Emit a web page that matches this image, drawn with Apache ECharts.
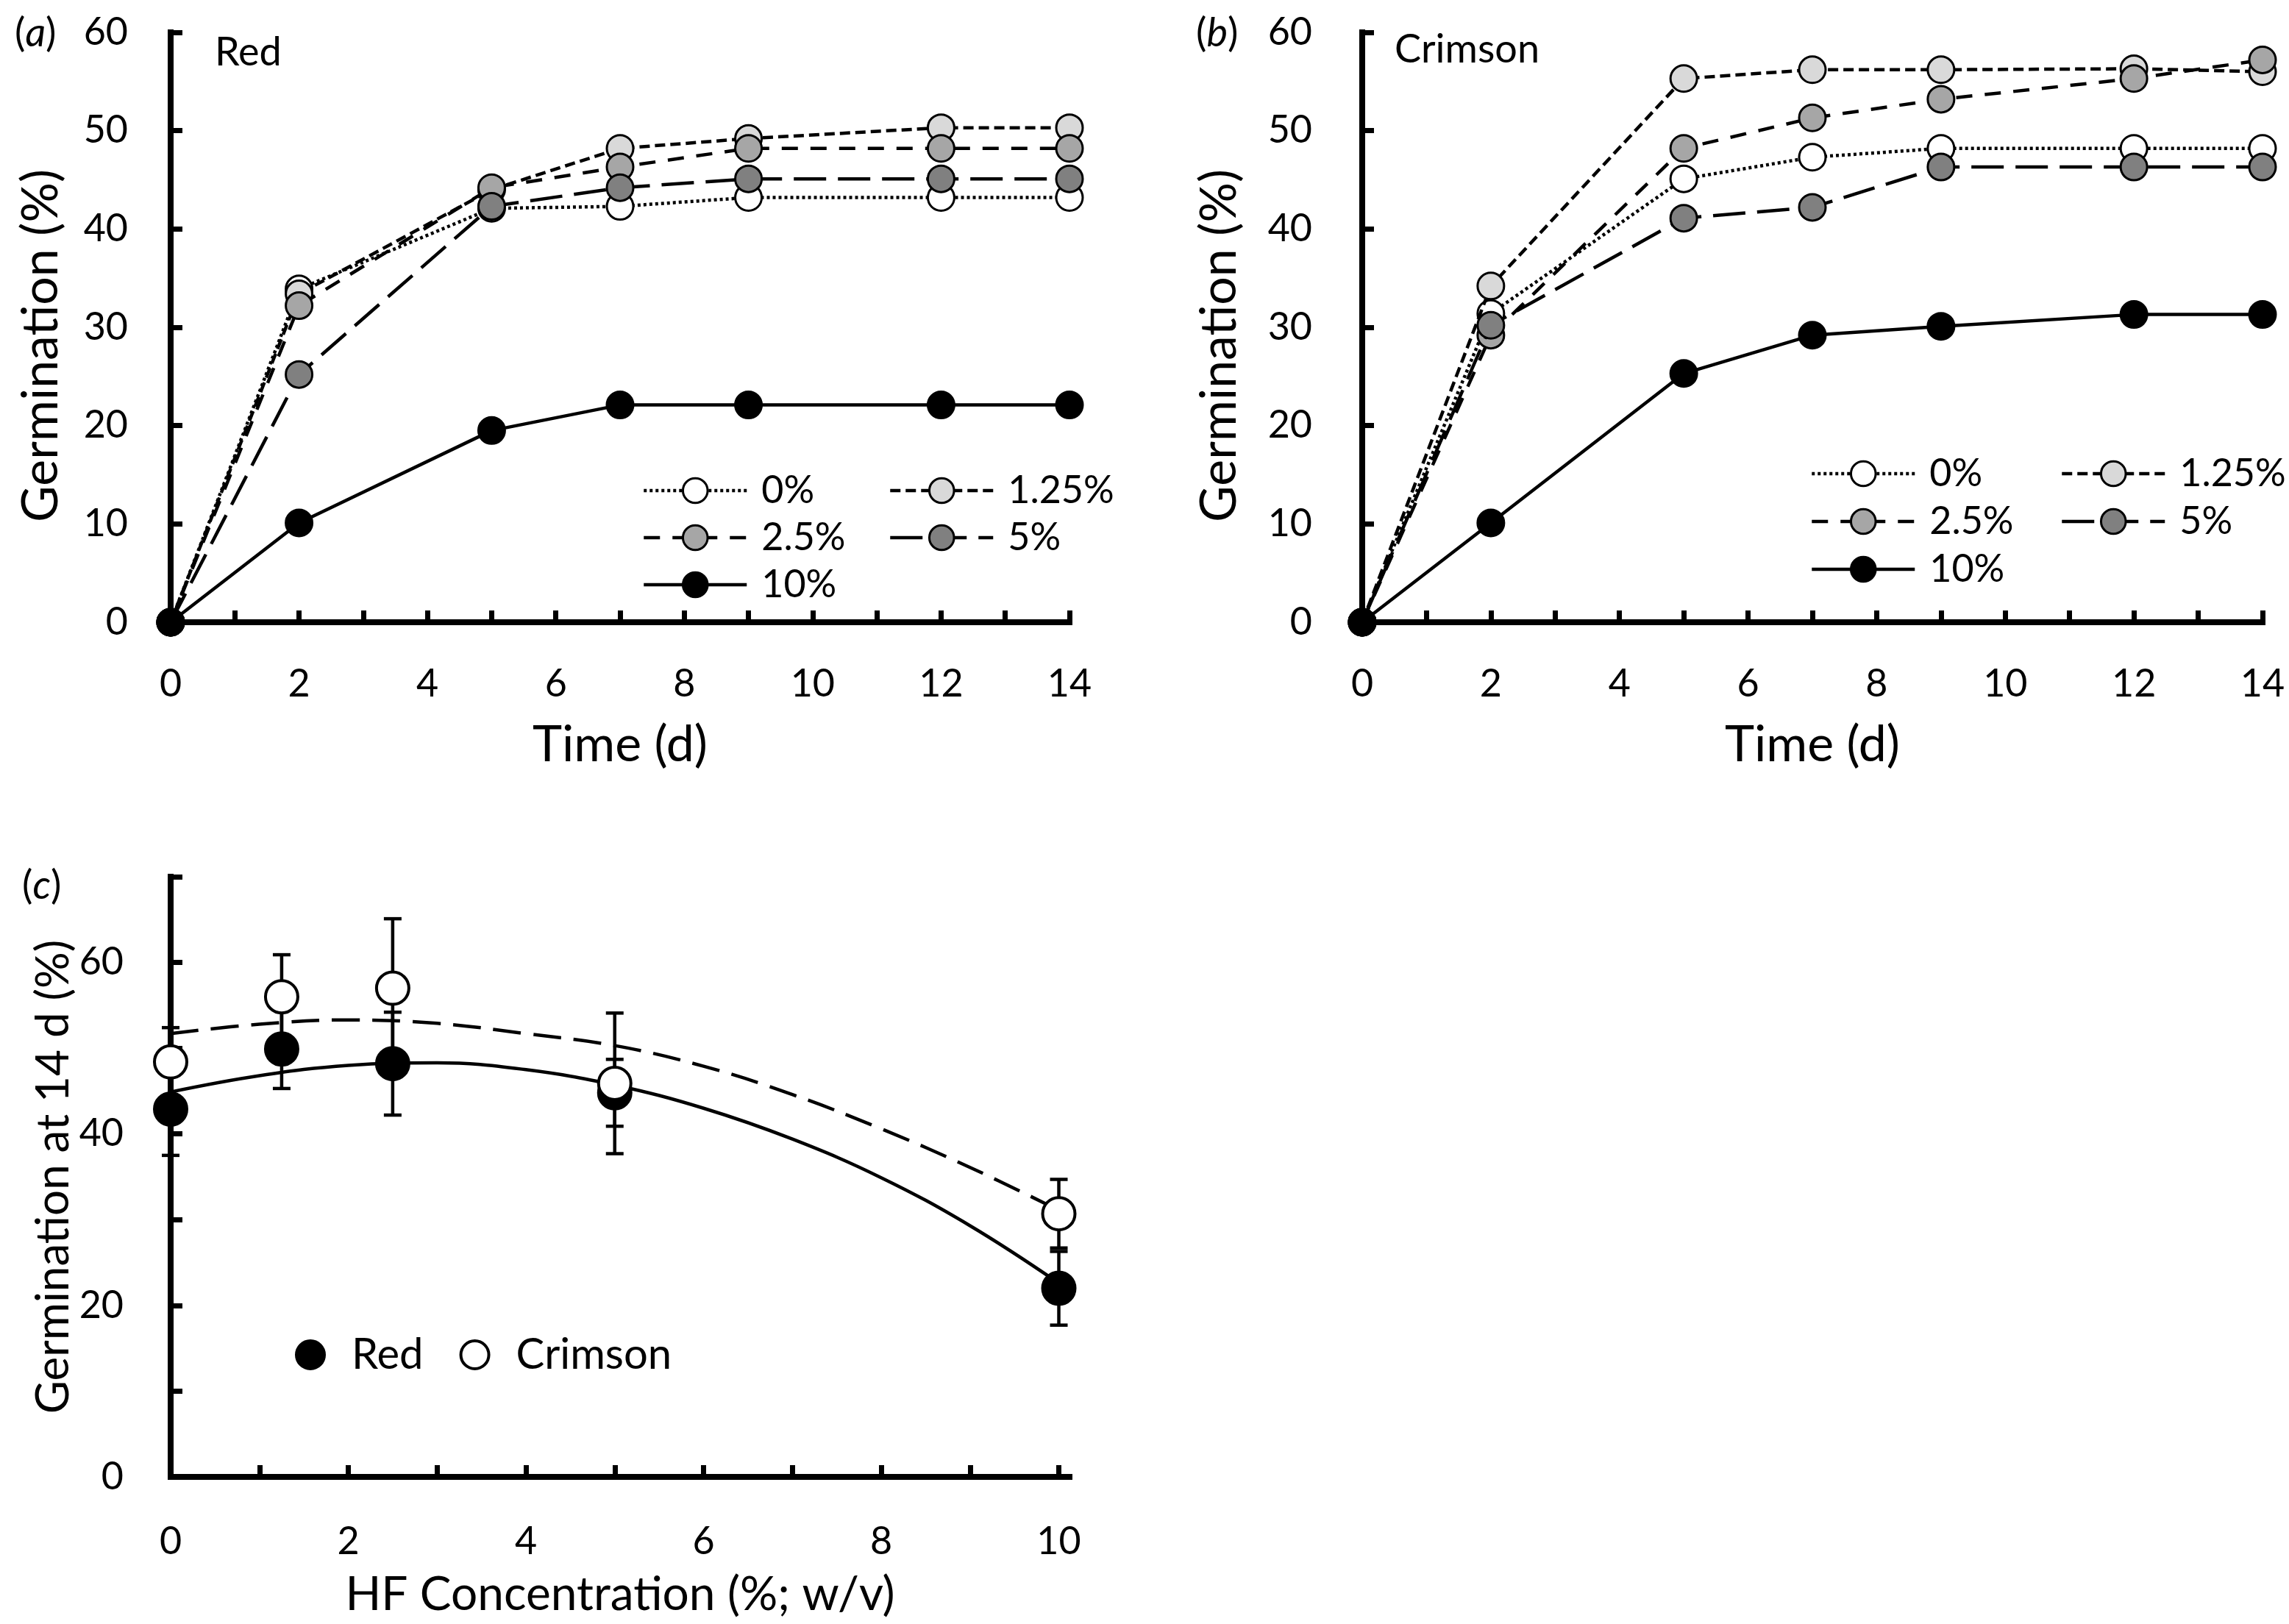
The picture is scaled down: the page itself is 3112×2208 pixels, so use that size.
<!DOCTYPE html>
<html>
<head>
<meta charset="utf-8">
<script src="https://cdn.jsdelivr.net/npm/echarts@6.0.0/dist/echarts.min.js"></script>
<style>
  html, body { margin: 0; padding: 0; background: #fff; }
  #chart { width: 3112px; height: 2208px; }
</style>
</head>
<body>
<div id="chart"></div>
<script>
// ---- values ----
const days = [0, 2, 5, 7, 9, 12, 14];
const dayTicks = [0, 1, 2, 3, 4, 5, 6, 7, 8, 9, 10, 11, 12, 13, 14];
const dayLabels = [0, 2, 4, 6, 8, 10, 12, 14];
const pctTicks = [0, 10, 20, 30, 40, 50, 60];
const treatments = ['0%', '1.25%', '2.5%', '5%', '10%'];

// (a) Red
const red0   = [0, 33.9, 42.1, 42.3, 43.2, 43.2, 43.2];
const red125 = [0, 33.4, 44.0, 48.2, 49.2, 50.3, 50.3];
const red25  = [0, 32.2, 44.2, 46.3, 48.2, 48.2, 48.2];
const red5   = [0, 25.2, 42.3, 44.2, 45.1, 45.1, 45.1];
const red10  = [0, 10.1, 19.5, 22.1, 22.1, 22.1, 22.1];

// (b) Crimson
const crim0   = [0, 31.4, 45.1, 47.3, 48.2, 48.2, 48.2];
const crim125 = [0, 34.2, 55.3, 56.2, 56.2, 56.3, 56.0];
const crim25  = [0, 29.2, 48.2, 51.3, 53.2, 55.3, 57.2];
const crim5   = [0, 30.2, 41.1, 42.2, 46.3, 46.3, 46.3];
const crim10  = [0, 10.1, 25.3, 29.2, 30.1, 31.3, 31.3];

// (c) germination at 14 d
const hfConc = [0, 1.25, 2.5, 5, 10];
const hfTicks = [0, 1, 2, 3, 4, 5, 6, 7, 8, 9, 10];
const hfLabels = [0, 2, 4, 6, 8, 10];
const germTicks = [0, 10, 20, 30, 40, 50, 60, 70];
const germLabels = [0, 20, 40, 60];
const redMean = [42.9, 49.9, 48.2, 44.8, 22.0];
const redErr  = [5.4, 4.6, 6.0, 3.9, 4.3];
const crimMean = [48.4, 56.0, 57.0, 45.9, 30.7];
const crimErr  = [4.0, 4.9, 8.1, 8.2, 4.0];
// fitted curves
const trendX = [0, 1, 2, 3, 4, 5, 6, 7, 8, 9, 10];
const redTrend  = [44.9, 46.8, 48.0, 48.3, 47.5, 45.7, 43.0, 39.4, 34.9, 29.3, 22.6];
const crimTrend = [51.7, 52.8, 53.3, 52.9, 51.7, 50.3, 47.9, 44.6, 40.6, 36.1, 31.1];

// ---- look ----
const FONT = 'Lato';
const fills = ['#ffffff', '#d9d9d9', '#a6a6a6', '#808080', '#000000'];
const dashes = [[4, 4], [14, 7], [22, 17], [44, 16], 'solid'];

function mkAxis(extra) {
  const ax = {
    type: 'value',
    axisLine: { show: true, onZero: false, lineStyle: { color: '#000', width: 8, cap: 'square' } },
    axisTick: { show: true, inside: true, length: 16, lineStyle: { color: '#000', width: 7 } },
    splitLine: { show: false },
    axisLabel: { color: '#000', fontFamily: FONT, fontSize: 52 },
    nameLocation: 'middle',
    nameTextStyle: { color: '#000', fontFamily: FONT }
  };
  for (const k in extra) {
    if (typeof extra[k] === 'object' && !Array.isArray(extra[k]) && ax[k]) {
      ax[k] = Object.assign({}, ax[k], extra[k]);
    } else {
      ax[k] = extra[k];
    }
  }
  return ax;
}

function timeSeries(values, idx) {
  return values.map(function (vals, k) {
    return {
      name: treatments[k],
      type: 'line',
      xAxisIndex: idx, yAxisIndex: idx,
      data: days.map(function (d, i) { return [d, vals[i]]; }),
      symbol: 'circle', symbolSize: 36,
      clip: false,
      z: 2 + k,
      lineStyle: { color: '#000', width: 4.5, type: dashes[k] },
      itemStyle: { color: fills[k], borderColor: '#000', borderWidth: 3, opacity: 1 },
      emphasis: { disabled: true }
    };
  });
}

function legendItem(name, left, center) {
  return {
    data: [name], left: left, top: center - 26, padding: 0,
    itemWidth: 140, itemHeight: 42, selectedMode: false,
    lineStyle: { width: 4.5 },
    itemStyle: { borderWidth: 3 },
    textStyle: { fontFamily: FONT, fontSize: 52, color: '#000', padding: [0, 0, 0, 15] }
  };
}

function errorBar(params, api) {
  const x = api.value(0), y = api.value(1), e = api.value(2);
  const hi = api.coord([x, y + e]);
  const lo = api.coord([x, y - e]);
  const cap = 12;
  const style = { stroke: '#000', lineWidth: 4.5 };
  return {
    type: 'group',
    children: [
      { type: 'line', shape: { x1: hi[0], y1: hi[1], x2: lo[0], y2: lo[1] }, style: style },
      { type: 'line', shape: { x1: hi[0] - cap, y1: hi[1], x2: hi[0] + cap, y2: hi[1] }, style: style },
      { type: 'line', shape: { x1: lo[0] - cap, y1: lo[1], x2: lo[0] + cap, y2: lo[1] }, style: style }
    ]
  };
}

function panelTag(letter, x, y) {
  return {
    type: 'text', x: x, y: y,
    style: {
      text: '{n|(}{i|' + letter + '}{n|)}',
      verticalAlign: 'middle', align: 'left',
      rich: {
        n: { fontFamily: FONT, fontSize: 54, fill: '#000' },
        i: { fontFamily: FONT, fontSize: 54, fontStyle: 'italic', fill: '#000' }
      }
    }
  };
}

function label(text, x, y) {
  return {
    type: 'text', x: x, y: y,
    style: { text: text, fontFamily: FONT, fontSize: 54, fill: '#000', verticalAlign: 'middle', align: 'left' }
  };
}

const chart = echarts.init(document.getElementById('chart'), null, { renderer: 'canvas' });

const legends = [];
[[873, 667], [1208, 667], [873, 731], [1208, 731], [873, 795]].forEach(function (p, k) {
  legends.push(legendItem(treatments[k], p[0], p[1]));
});
[[2461, 644], [2801, 644], [2461, 709], [2801, 709], [2461, 774]].forEach(function (p, k) {
  legends.push(legendItem(treatments[k], p[0], p[1]));
});
legends.push({
  data: ['Red', 'Crimson'], left: 401, top: 1842 - 29, padding: 0,
  itemWidth: 38, itemHeight: 38, itemGap: 49, selectedMode: false,
  itemStyle: { borderWidth: 4, opacity: 1 },
  textStyle: { fontFamily: FONT, fontSize: 58, color: '#000', padding: [0, 0, 0, 32] }
});

chart.setOption({
  animation: false,
  backgroundColor: '#fff',
  grid: [
    { left: 232, top: 44, width: 1222, height: 802 },
    { left: 1852, top: 44, width: 1224, height: 802 },
    { left: 232, top: 1192, width: 1222, height: 816 }
  ],
  xAxis: [
    mkAxis({ gridIndex: 0, min: 0, max: 14, interval: 2, name: 'Time (d)', nameGap: 133,
      nameTextStyle: { fontSize: 68 },
      axisTick: { customValues: dayTicks },
      axisLabel: { customValues: dayLabels, margin: 58 } }),
    mkAxis({ gridIndex: 1, min: 0, max: 14, interval: 2, name: 'Time (d)', nameGap: 133,
      nameTextStyle: { fontSize: 68 },
      axisTick: { customValues: dayTicks },
      axisLabel: { customValues: dayLabels, margin: 58 } }),
    mkAxis({ gridIndex: 2, min: 0, max: 10.12, interval: 2, name: 'HF Concentration (%; w/v)', nameGap: 128,
      nameTextStyle: { fontSize: 64 },
      axisTick: { customValues: hfTicks },
      axisLabel: { customValues: hfLabels, margin: 62 } })
  ],
  yAxis: [
    mkAxis({ gridIndex: 0, min: 0, max: 60, interval: 10, name: 'Germination (%)', nameGap: 142,
      nameTextStyle: { fontSize: 68, padding: [0, 50, 0, 0] },
      axisTick: { customValues: pctTicks },
      axisLabel: { customValues: pctTicks, margin: 58 } }),
    mkAxis({ gridIndex: 1, min: 0, max: 60, interval: 10, name: 'Germination (%)', nameGap: 160,
      nameTextStyle: { fontSize: 68, padding: [0, 50, 0, 0] },
      axisTick: { customValues: pctTicks },
      axisLabel: { customValues: pctTicks, margin: 68 } }),
    mkAxis({ gridIndex: 2, min: 0, max: 70, interval: 10, name: 'Germination at 14 d (%)', nameGap: 128,
      nameTextStyle: { fontSize: 62 },
      axisTick: { customValues: germTicks },
      axisLabel: { customValues: germLabels, margin: 64 } })
  ],
  legend: legends,
  graphic: [
    panelTag('a', 20, 46),
    label('Red', 292, 72),
    panelTag('b', 1626, 46),
    label('Crimson', 1896, 68),
    panelTag('c', 30, 1205)
  ],
  series: timeSeries([red0, red125, red25, red5, red10], 0)
    .concat(timeSeries([crim0, crim125, crim25, crim5, crim10], 1))
    .concat([
      {
        name: 'Red err', type: 'custom', xAxisIndex: 2, yAxisIndex: 2, z: 1, clip: false,
        renderItem: errorBar,
        data: hfConc.map(function (c, i) { return [c, redMean[i], redErr[i]]; })
      },
      {
        name: 'Crimson err', type: 'custom', xAxisIndex: 2, yAxisIndex: 2, z: 1, clip: false,
        renderItem: errorBar,
        data: hfConc.map(function (c, i) { return [c, crimMean[i], crimErr[i]]; })
      },
      {
        name: 'Red fit', type: 'line', xAxisIndex: 2, yAxisIndex: 2, z: 2,
        smooth: 0.4, showSymbol: false, symbol: 'none',
        lineStyle: { color: '#000', width: 4.5, type: 'solid' },
        data: trendX.map(function (x, i) { return [x, redTrend[i]]; })
      },
      {
        name: 'Crimson fit', type: 'line', xAxisIndex: 2, yAxisIndex: 2, z: 2,
        smooth: 0.4, showSymbol: false, symbol: 'none',
        lineStyle: { color: '#000', width: 4.5, type: [38, 17] },
        data: trendX.map(function (x, i) { return [x, crimTrend[i]]; })
      },
      {
        name: 'Red', type: 'scatter', xAxisIndex: 2, yAxisIndex: 2, z: 3, clip: false,
        symbol: 'circle', symbolSize: 46,
        itemStyle: { color: '#000', borderColor: '#000', borderWidth: 2, opacity: 1 },
        emphasis: { disabled: true },
        data: hfConc.map(function (c, i) { return [c, redMean[i]]; })
      },
      {
        name: 'Crimson', type: 'scatter', xAxisIndex: 2, yAxisIndex: 2, z: 4, clip: false,
        symbol: 'circle', symbolSize: 44,
        itemStyle: { color: '#fff', borderColor: '#000', borderWidth: 4, opacity: 1 },
        emphasis: { disabled: true },
        data: hfConc.map(function (c, i) { return [c, crimMean[i]]; })
      }
    ])
});
</script>
</body>
</html>
